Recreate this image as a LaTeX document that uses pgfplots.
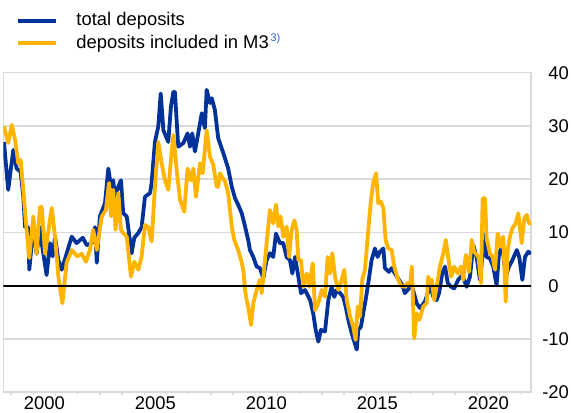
\documentclass[border=0pt]{standalone}
\usepackage{fontspec}
\setmainfont{Liberation Sans}
\usepackage{pgfplots}
\pgfplotsset{compat=1.18}
\definecolor{ecbblue}{HTML}{003299}
\definecolor{ecbyellow}{HTML}{FFB400}
\definecolor{gridgray}{HTML}{D9D9D9}
\definecolor{supblue}{HTML}{3366CC}
\begin{document}
\fontsize{9.2}{11}\selectfont
\begin{tikzpicture}
\path[use as bounding box] (-1.65pt,-9.9pt) rectangle (283.85pt,196.1pt);
\begin{axis}[
  scale only axis, width=263.85pt, height=159.75pt,
  xmin=1998.649, xmax=2022.42, ymin=-20, ymax=40,
  axis line style={gridgray, line width=0.75pt},
  ytick={-20,-10,...,40}, yticklabels={\llap{-}20,\llap{-}10,0,10,20,30,40},
  ytick pos=right, ymajorgrids, grid style={gridgray, line width=0.75pt},
  major tick length=0pt,
  xtick={2000.5,2005.5,2010.5,2015.5,2020.5}, xticklabels={2000,2005,2010,2015,2020},
  minor xtick={1999,...,2022}, minor tick length=1.5pt, tick align=outside, xtick pos=left,
  tick style={gridgray, line width=0.75pt},
  /pgf/number format/assume math mode=true,
  ticklabel style={font=\fontsize{9.2}{11}\selectfont, inner sep=0pt, text=black},
  yticklabel style={anchor=west, xshift=8.5pt},
  xticklabel style={anchor=north, yshift=-2.1pt},
  legend style={draw=none, fill=none, inner sep=0pt, outer sep=0pt,
    at={(rel axis cs:0,1)}, anchor=north west, xshift=6.35pt, yshift=30.3pt,
    row sep=2.7pt, column sep=9.2pt,
    nodes={inner sep=0pt, text height=6.7pt, text depth=1.9pt, anchor=west},
    font=\fontsize{9.2}{11}\selectfont},
  legend cell align=left,
  legend image code/.code={\draw[#1] (0pt,0pt) -- (19.15pt,0pt);},
]
\addplot[ecbblue, line width=1.9pt, line join=round] coordinates {
(1998.68,27) (1998.87,18) (1999.10,25.5) (1999.25,22) (1999.43,21.4) (1999.55,16.7) (1999.63,11) (1999.77,11) (1999.82,3) (2000.00,11) (2000.15,6) (2000.30,11) (2000.38,8) (2000.60,2) (2000.75,8) (2000.87,5.5) (2000.98,9.2) (2001.13,4.8) (2001.28,3) (2001.50,6) (2001.73,9.2) (2001.95,8) (2002.23,9) (2002.41,7.6) (2002.63,8) (2002.78,11) (2002.86,4.3) (2003.00,13) (2003.23,15.5) (2003.38,22) (2003.50,18.6) (2003.60,19.8) (2003.68,16.7) (2003.83,18.6) (2003.95,19.8) (2004.05,13.6) (2004.21,13) (2004.31,9.9) (2004.43,6.1) (2004.55,9) (2004.73,9.9) (2004.88,11) (2005.03,16.7) (2005.26,17.4) (2005.33,19.3) (2005.48,27) (2005.63,29.9) (2005.74,36.1) (2005.86,29.2) (2006.08,27) (2006.20,33.6) (2006.31,36.4) (2006.38,36.4) (2006.53,26.1) (2006.76,26.8) (2006.95,28.6) (2007.06,26.1) (2007.16,28.6) (2007.28,25.2) (2007.43,28.6) (2007.59,32.4) (2007.73,29.6) (2007.81,36.8) (2007.96,34.3) (2008.04,35.2) (2008.18,33) (2008.33,27.7) (2008.56,24.9) (2008.78,22) (2008.94,18.6) (2009.09,16.4) (2009.23,15.2) (2009.39,13.6) (2009.54,11.1) (2009.68,8.6) (2009.76,6.7) (2009.91,5.4) (2010.06,3.6) (2010.21,3.3) (2010.36,1.4) (2010.51,4.8) (2010.66,6.1) (2010.81,5.4) (2010.93,9.8) (2011.11,8) (2011.26,8) (2011.41,5.4) (2011.56,4.8) (2011.67,2.3) (2011.79,5.4) (2011.94,1.7) (2012.06,-1.4) (2012.24,-0.8) (2012.47,-2.7) (2012.61,-5.2) (2012.72,-8.3) (2012.84,-10.5) (2012.96,-8.3) (2013.14,-8.6) (2013.29,-2.7) (2013.44,-0.2) (2013.56,-2.1) (2013.67,-0.8) (2013.82,-1.4) (2013.96,-2.1) (2014.07,-3.9) (2014.19,-6.4) (2014.34,-8.9) (2014.46,-10.5) (2014.57,-12) (2014.64,-8.3) (2014.76,-7.7) (2014.86,-5.2) (2014.97,-2.7) (2015.09,0.5) (2015.24,4.8) (2015.39,7) (2015.51,5.4) (2015.62,6.4) (2015.77,7) (2015.84,3.3) (2016.02,2.6) (2016.14,3.3) (2016.29,2.3) (2016.47,1.1) (2016.62,0.1) (2016.74,-1.4) (2016.86,-0.8) (2017.01,0) (2017.12,-1) (2017.27,-3.3) (2017.42,-4.2) (2017.64,-3) (2017.77,-1.4) (2017.91,-0.2) (2018.02,-2.1) (2018.17,-2.7) (2018.28,-1.4) (2018.42,2.3) (2018.55,3.6) (2018.67,0.5) (2018.82,-0.2) (2018.96,-0.5) (2019.14,1.1) (2019.32,2) (2019.52,-0.2) (2019.67,1.7) (2019.82,7.6) (2019.97,5.4) (2020.12,1.1) (2020.23,5.4) (2020.32,9.5) (2020.42,5.4) (2020.57,5.1) (2020.72,3.6) (2020.87,0.1) (2020.98,6.1) (2021.13,7.3) (2021.28,1.7) (2021.43,3.6) (2021.58,4.8) (2021.78,6.7) (2021.89,5.4) (2022.03,1.1) (2022.15,5.4) (2022.30,6.4) (2022.42,6)
};
\addlegendentry{total deposits}
\addplot[ecbyellow, line width=1.9pt, line join=round] coordinates {
(1998.68,29.9) (1998.87,26.8) (1999.03,30.2) (1999.18,27.4) (1999.32,23) (1999.43,23.6) (1999.55,18) (1999.67,11.7) (1999.82,5.2) (2000.00,13) (2000.15,6) (2000.30,14.8) (2000.38,14.8) (2000.53,6) (2000.65,9.5) (2000.83,14.6) (2000.98,9.2) (2001.13,1.7) (2001.31,-3.3) (2001.50,4.3) (2001.73,6.7) (2001.98,5.5) (2002.18,6) (2002.37,4.5) (2002.55,6.7) (2002.70,10.5) (2002.86,6.7) (2003.08,13) (2003.27,14.2) (2003.41,19.3) (2003.50,13) (2003.60,18) (2003.71,10.5) (2003.83,17.4) (2003.95,10.5) (2004.05,9.9) (2004.21,9.2) (2004.40,1.7) (2004.55,4.5) (2004.73,3) (2004.88,5.5) (2005.03,11.4) (2005.18,11) (2005.33,8.3) (2005.48,18.6) (2005.63,27) (2005.78,23) (2005.93,19.8) (2006.08,18) (2006.20,23.6) (2006.31,28.3) (2006.46,21.7) (2006.61,16.1) (2006.80,13.9) (2006.95,22) (2007.10,19.8) (2007.21,22) (2007.33,16.7) (2007.51,23) (2007.63,21.1) (2007.81,29.2) (2007.96,24.2) (2008.11,22.7) (2008.26,18.6) (2008.33,18.6) (2008.41,21.1) (2008.64,19.5) (2008.78,17.4) (2008.94,11.1) (2009.05,8.6) (2009.23,6.7) (2009.36,4.8) (2009.46,3) (2009.54,-0.8) (2009.61,-2.7) (2009.68,-3.9) (2009.81,-7.4) (2009.91,-3.3) (2010.06,-0.8) (2010.21,1.1) (2010.29,-1.4) (2010.41,3.6) (2010.51,8) (2010.66,14.2) (2010.81,11.7) (2010.93,15.2) (2011.04,11.1) (2011.14,13) (2011.26,9.2) (2011.41,11.1) (2011.52,5.4) (2011.64,10.5) (2011.76,12.3) (2011.86,10.5) (2011.94,4.8) (2012.06,4.8) (2012.16,-0.2) (2012.32,2.3) (2012.43,-0.2) (2012.59,4.2) (2012.69,-4.6) (2012.84,-3.3) (2012.99,-0.8) (2013.14,-2.1) (2013.26,5.4) (2013.36,2.3) (2013.47,6.1) (2013.59,1.7) (2013.74,-0.8) (2013.89,1.1) (2014.01,3) (2014.12,-2.7) (2014.27,-5.8) (2014.41,-7.7) (2014.52,-10.2) (2014.61,-3.9) (2014.72,-5.8) (2014.82,1.1) (2014.94,3) (2015.09,10.5) (2015.21,16.1) (2015.32,19.5) (2015.44,21.1) (2015.54,15.5) (2015.66,15.8) (2015.77,14.5) (2015.87,8.6) (2015.99,7) (2016.14,6.7) (2016.26,3.6) (2016.41,1.4) (2016.56,0) (2016.71,-0.2) (2016.86,0.5) (2016.97,0) (2017.05,3.6) (2017.16,-9.9) (2017.27,-5.2) (2017.39,-6.4) (2017.57,-3.9) (2017.72,-3.3) (2017.79,1.7) (2017.86,0.5) (2017.95,1.1) (2018.06,-2.7) (2018.17,-0.2) (2018.32,3.6) (2018.47,6.1) (2018.58,8.6) (2018.69,5.4) (2018.82,1.7) (2018.96,3.6) (2019.12,2.3) (2019.27,3.6) (2019.37,1.1) (2019.48,5.8) (2019.63,2.6) (2019.75,8.6) (2019.86,6.4) (2020.05,5.4) (2020.17,0.5) (2020.24,16.4) (2020.35,16.4) (2020.42,8.9) (2020.57,6.1) (2020.69,5.4) (2020.80,3) (2020.92,9.8) (2021.07,7.3) (2021.17,9.2) (2021.28,-3) (2021.37,6.7) (2021.47,9.2) (2021.58,10.8) (2021.73,11.7) (2021.85,13.6) (2022.00,8) (2022.12,12.7) (2022.23,13.3) (2022.33,11.7) (2022.42,11.7)
};
\addlegendentry{deposits included in M3\raisebox{3.4pt}{\fontsize{5.5}{6}\selectfont\color{supblue}\,3)}}
\addplot[black, line width=0.8pt, forget plot] coordinates {(1998.649,0) (2022.42,0)};
\end{axis}
\end{tikzpicture}
\end{document}
